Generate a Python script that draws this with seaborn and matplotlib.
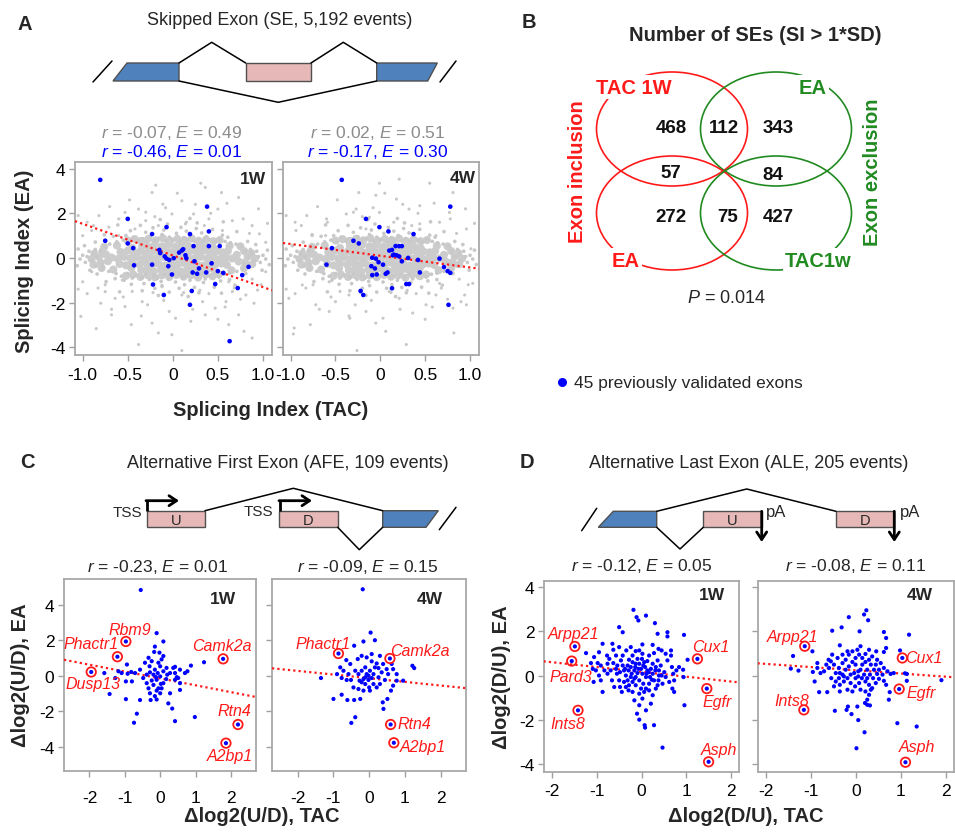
import numpy as np
import pandas as pd
import matplotlib
matplotlib.use("Agg")
import matplotlib.pyplot as plt
import seaborn as sns
from matplotlib.patches import Ellipse, Polygon

W, H = 955, 837
GREY = "#c8c8c8"
BLUE = "#0000ff"
RED = "#ff1a1a"
GREEN = "#218a21"
EXON_BLUE = "#4f81bd"
EXON_PINK = "#e6b8b7"

# ---------------- A: skipped exons, splicing index TAC (x) vs EA (y) ----------------
se_core = [(-0.34,0.55),(-0.27,0.49),(-0.2,0.6),(-0.12,0.52),(-0.05,0.58),(0.03,0.5),(0.1,0.61),(0.17,0.54),(0.25,0.47),(0.31,0.58),(0.38,0.5),
           (-0.58,0.27),(-0.5,0.33),(-0.43,0.24),(-0.36,0.3),(-0.3,0.22),(-0.22,0.31),(-0.15,0.25),(-0.08,0.34),(-0.01,0.26),(0.06,0.3),(0.13,0.21),(0.2,0.32),(0.27,0.26),(0.34,0.33),(0.41,0.22),(0.48,0.29),(0.55,0.25),(0.61,0.31),
           (-0.68,0.02),(-0.61,-0.04),(-0.54,0.05),(-0.47,-0.02),(-0.4,0.04),(-0.33,-0.05),(-0.26,0.03),(-0.19,-0.03),(-0.11,0.05),(-0.04,-0.01),(0.03,0.04),(0.1,-0.04),(0.17,0.02),(0.24,-0.02),(0.31,0.05),(0.38,-0.03),(0.45,0.03),(0.52,-0.05),(0.59,0.02),(0.66,-0.02),
           (-0.59,-0.27),(-0.52,-0.33),(-0.45,-0.24),(-0.37,-0.3),(-0.3,-0.22),(-0.23,-0.31),(-0.16,-0.26),(-0.09,-0.34),(-0.02,-0.25),(0.05,-0.3),(0.12,-0.22),(0.19,-0.32),(0.26,-0.27),(0.33,-0.34),(0.4,-0.23),(0.47,-0.3),(0.54,-0.25),(0.6,-0.31),
           (-0.35,-0.55),(-0.28,-0.5),(-0.21,-0.6),(-0.13,-0.53),(-0.06,-0.58),(0.02,-0.49),(0.09,-0.6),(0.16,-0.52),(0.23,-0.57),(0.3,-0.5),(0.37,-0.56),
           (-0.74,0.15),(-0.72,-0.15),(0.71,0.14),(0.73,-0.16),(-0.45,0.45),(0.45,0.44),(-0.46,-0.45),(0.44,-0.46),
           (-0.5,0.78),(-0.42,0.84),(-0.35,0.76),(-0.27,0.86),(-0.19,0.79),(-0.11,0.88),(-0.03,0.77),(0.05,0.85),(0.13,0.8),(0.21,0.87),(0.29,0.76),(0.37,0.83),(0.45,0.75),(0.52,0.8),
           (-0.52,-0.8),(-0.44,-0.74),(-0.36,-0.85),(-0.28,-0.77),(-0.2,-0.87),(-0.12,-0.78),(-0.04,-0.86),(0.04,-0.76),(0.12,-0.84),(0.2,-0.78),(0.28,-0.88),(0.36,-0.75),(0.44,-0.82),(0.51,-0.74),
           (-0.79,-0.45),(-0.8,-0.21),(-0.82,0.05),(-0.78,0.3),(-0.76,0.5),(0.79,-0.46),(0.8,-0.2),(0.83,0.06),(0.79,0.31),(0.75,0.52),
           (-0.88,-0.3),(-0.9,-0.05),(-0.87,0.2),(0.88,-0.28),(0.91,-0.03),(0.87,0.22),
           (-0.62,0.56),(-0.66,-0.52),(0.63,0.54),(0.65,-0.55)]
se_mid = [(-0.62,0.72),(-0.55,0.8),(-0.48,0.7),(-0.44,0.92),(-0.38,0.78),(-0.33,0.86),(-0.29,0.71),(-0.25,0.95),(-0.2,0.8),(-0.16,0.88),(-0.12,1.05),(-0.08,0.76),(-0.04,0.93),(0.0,0.82),(0.04,1.1),(0.08,0.74),(0.12,0.9),(0.16,0.8),(0.2,1.0),(0.24,0.76),(0.28,0.87),(0.33,0.72),(0.37,0.95),(0.42,0.8),(0.47,0.7),(0.52,0.84),(0.58,0.74),(0.64,0.68),
          (-0.3,1.15),(-0.1,1.25),(0.15,1.2),(0.32,1.12),(-0.52,1.0),(0.55,1.02),(-0.22,1.35),(0.26,1.32),
          (-0.63,-0.7),(-0.57,-0.82),(-0.5,-0.7),(-0.45,-0.9),(-0.4,-0.76),(-0.34,-0.88),(-0.3,-0.72),(-0.26,-0.96),(-0.21,-0.8),(-0.17,-0.9),(-0.13,-1.05),(-0.09,-0.75),(-0.05,-0.92),(-0.01,-0.8),(0.03,-1.08),(0.07,-0.74),(0.11,-0.88),(0.15,-0.78),(0.19,-1.0),(0.23,-0.75),(0.27,-0.86),(0.32,-0.71),(0.36,-0.94),(0.41,-0.8),(0.46,-0.7),(0.51,-0.85),(0.57,-0.73),(0.63,-0.68),
          (-0.32,-1.15),(-0.12,-1.24),(0.13,-1.2),(0.34,-1.1),(-0.54,-1.0),(0.53,-1.03),(-0.2,-1.36),(0.24,-1.32),
          (-0.8,0.3),(-0.84,0.05),(-0.79,-0.28),(-0.88,0.18),(-0.9,-0.12),(-0.95,0.06),(-0.76,0.5),(-0.78,-0.48),(-0.86,0.38),(-0.85,-0.36),(-0.97,-0.2),(-1.0,0.12),(-0.93,0.3),(-1.03,-0.05),(-0.7,0.62),(-0.71,-0.6),
          (0.8,0.3),(0.84,0.05),(0.79,-0.28),(0.88,0.18),(0.9,-0.12),(0.95,0.06),(0.76,0.5),(0.78,-0.48),(0.86,0.38),(0.85,-0.36),(0.97,-0.2),(1.0,0.12),(0.93,0.3),(1.03,-0.05),(0.7,0.62),(0.71,-0.6),
          (-0.86,0.71),(-0.66,0.97),(-0.47,1.22),(-0.36,1.46),(-0.06,1.52),(0.09,1.37),(0.27,1.57),(0.44,1.28),(0.61,0.93),(0.83,0.74),(0.71,1.18),(-0.76,1.04),(-0.14,1.72),(0.19,1.77),(-0.61,1.48),(0.56,1.62),
          (-0.84,-0.72),(-0.64,-0.93),(-0.46,-1.18),(-0.34,-1.47),(-0.04,-1.53),(0.07,-1.36),(0.29,-1.56),(0.46,-1.31),(0.63,-0.97),(0.81,-0.7),(0.69,-1.22),(-0.74,-1.06),(-0.16,-1.68),(0.17,-1.73),(-0.59,-1.52),(0.54,-1.58),
          (-1.05,0.4),(-1.06,-0.35),(1.05,0.35),(1.07,-0.3),(-0.98,0.55),(0.99,-0.55),(-0.92,-0.55),(0.92,0.6)]
se_outer = [(-0.95,1.6),(-0.82,1.9),(-0.7,2.3),(-0.48,2.6),(-0.3,2.05),(-0.08,2.25),(0.05,2.9),(0.25,2.4),(0.42,2.0),(0.6,2.45),(0.78,1.75),(0.95,2.2),(-1.05,1.9),(-0.6,1.75),(0.15,1.6),(-0.2,1.85),(0.35,1.45),(0.85,1.1),(-0.88,1.45),(1.05,1.55),
            (-0.95,-1.6),(-0.83,-1.35),(-0.68,-2.3),(-0.45,-1.5),(-0.28,-2.1),(-0.1,-1.9),(0.03,-2.7),(0.22,-2.3),(0.4,-1.6),(0.58,-2.2),(0.75,-1.85),(0.98,-1.2),(-1.05,-1.4),(-0.55,-1.75),(0.12,-1.55),(-0.22,-1.55),(0.3,-1.45),(0.88,-0.95),(-0.35,-2.6),(0.5,-2.75),(-0.75,-1.2),(0.68,-1.35)]
se_grey_1w = [(-0.19,3.26),(-0.23,2.93),(0.31,3.35),(0.73,2.71),(0.54,2.93),(0.36,3.16),(-0.11,2.41),(0.1,2.56),(-0.53,2.04),(-0.38,2.19),(0.5,2.19),(0.88,1.45),(0.96,1.08),(-0.9,1.23),(-1.0,1.0),(-0.71,1.38),(0.66,1.67),(0.23,1.97),(-0.01,1.97),(-0.3,1.67),(1.03,0.7),(1.03,-0.62),(-1.0,-1.07),(-0.9,-0.62),(-0.75,-1.51),(-0.64,-1.81),(-0.53,-2.18),(-0.8,-2.03),(-1.02,-2.62),(-0.85,-3.17),(-0.46,-2.99),(-0.23,-2.92),(-0.16,-3.36),(-0.01,-3.44),(0.1,-4.15),(0.2,-2.84),(0.36,-2.55),(0.47,-2.25),(0.59,-1.96),(0.73,-2.55),(0.79,-3.29),(0.88,-3.59),(0.9,-2.03),(0.94,-1.44),(0.81,-1.66),(0.66,-1.51),(0.1,-1.66),(-0.34,-1.96),(-0.04,-2.4),(0.33,-1.96),(-0.68,-2.55),(-0.38,-3.88),(0.62,-2.99),(-0.56,-0.99),(-0.12,-1.29),(0.62,-1.07),(-0.6,1.0),(0.55,1.23),(0.4,1.75),(0.14,1.53),(-0.16,1.45),(-0.42,1.3)]
se_grey_4w = [(-0.01,3.35),(0.21,3.53),(0.55,3.35),(-0.24,2.93),(-0.05,2.81),(0.81,2.93),(0.44,2.34),(0.18,2.64),(-0.59,1.6),(-0.38,1.97),(0.66,1.6),(0.96,1.3),(-0.94,1.23),(-0.76,1.0),(-0.27,2.19),(-0.12,1.82),(0.32,2.19),(0.77,2.04),(1.01,0.41),(1.03,-1.14),(-1.02,-1.81),(-0.96,-3.14),(-0.97,-3.41),(-0.78,-2.99),(-0.87,-1.21),(-0.72,-2.1),(-0.5,-1.96),(-0.34,-2.7),(-0.16,-2.4),(-0.05,-2.92),(-0.26,-4.15),(0.06,-3.29),(0.36,-2.47),(0.51,-2.1),(0.81,-2.25),(0.82,-3.36),(0.9,-1.96),(0.94,-1.66),(0.62,-1.66),(0.21,-1.81),(-0.35,-1.66),(-0.57,-1.07),(0.66,-1.14),(0.1,-1.51),(-0.16,1.3),(0.44,1.53),(-0.61,1.0),(0.62,1.0),(-0.01,2.04),(0.96,-2.1),(0.29,-3.88),(-0.57,-2.4)]
se_blue_1w = [(-0.805,3.50),(-0.75,0.77),(-0.50,1.75),(-0.50,0.65),(-0.44,0.44),(-0.43,-0.33),(-0.23,1.07),(-0.23,-0.30),(-0.22,-1.19),(-0.10,-1.66),(-0.07,1.38),(-0.15,0.36),(-0.14,0.22),(-0.09,0.07),(-0.07,-0.03),(-0.04,-0.09),(-0.05,-0.37),(-0.01,-0.74),(0.01,-0.01),(0.07,0.24),(0.10,0.33),(0.14,0.12),(0.15,-0.01),(0.19,1.07),(0.23,0.53),(0.24,-0.15),(0.22,-0.65),(0.27,-0.71),(0.29,-0.47),(0.21,-1.48),(0.19,-2.10),(0.38,2.30),(0.40,1.19),(0.40,0.53),(0.37,-0.65),(0.43,-0.24),(0.50,-0.59),(0.52,0.53),(0.47,-1.17),(0.56,-0.67),(0.72,-1.35),(0.77,-0.77),(0.84,-0.40),(0.63,-3.73),(0.115,0.39)]
se_blue_4w = [(-0.43,3.50),(-0.16,1.75),(-0.01,1.38),(0.09,1.19),(0.37,1.07),(-0.30,0.77),(-0.24,0.65),(-0.54,0.44),(-0.60,-0.30),(-0.09,0.01),(-0.05,-0.03),(-0.02,-0.19),(-0.10,-0.37),(-0.06,-0.47),(-0.09,-0.77),(-0.04,-0.74),(0.03,-0.30),(0.06,-0.71),(0.08,-0.65),(0.10,0.33),(0.13,0.36),(0.14,0.12),(0.17,0.53),(0.21,0.53),(0.24,0.53),(0.18,0.12),(0.21,0.07),(0.24,-0.15),(0.31,0.0),(0.42,-0.09),(0.44,-0.65),(0.13,-1.36),(0.29,-1.17),(0.32,-1.17),(-0.22,-1.48),(-0.19,-1.66),(0.66,-0.03),(0.71,-0.41),(0.75,-0.59),(0.78,-0.67),(0.78,2.30),(0.76,-2.10),(0.15,0.15)]
se_fit_x = [-1.085, 1.10]
se_fit_1w = [1.65, -1.45]
se_fit_4w = [0.67, -0.48]
se_stats_all = ["$\\it{r}$ = -0.07, $\\it{E}$ = 0.49", "$\\it{r}$ = 0.02, $\\it{E}$ = 0.51"]
se_stats_valid = ["$\\it{r}$ = -0.46, $\\it{E}$ = 0.01", "$\\it{r}$ = -0.17, $\\it{E}$ = 0.30"]

# ---------------- B: Venn counts ----------------
venn_counts = [468, 112, 343, 57, 84, 272, 75, 427]

# ---------------- C: alternative first exon ----------------
afe_1w = [(-0.55,4.83),(-0.10,2.40),(0.09,1.93),(-0.97,1.93),(-1.21,1.07),(-1.95,0.21),(1.78,0.95),(2.20,-2.75),(1.86,-3.80),(1.24,0.76),(0.87,0.57),(-0.15,1.64),(-0.33,1.01),(-0.24,0.82),(-0.05,0.73),(0.04,0.92),(0.00,0.53),(-0.15,0.34),(-0.29,0.19),(-0.38,0.06),(-0.19,0.06),(-0.07,0.15),(0.09,0.25),(0.18,0.44),(0.20,0.06),(0.37,0.44),(0.42,0.15),(0.47,-0.08),(0.56,-0.42),(0.70,0.15),(0.77,0.25),(-0.57,0.34),(-0.71,0.15),(-0.82,0.21),(-0.94,0.63),(-0.92,0.11),(-1.09,0.15),(-1.27,-0.13),(-1.58,0.15),(-1.43,-1.03),(-0.97,-0.32),(-0.97,-1.32),(-0.57,-1.37),(-0.66,-2.14),(-0.74,-2.65),(-0.27,-1.37),(-0.10,-1.34),(0.00,-0.99),(0.09,-0.42),(-0.10,-0.23),(-0.19,-0.52),(-0.38,-0.42),(-0.33,-0.71),(-0.05,-0.71),(0.04,-0.71),(0.28,-0.99),(0.34,-1.85),(0.23,-1.56),(0.42,-2.56),(0.98,-2.33),(0.56,-0.80),(0.42,-0.23),(-0.48,-0.13),(-0.24,-0.27),(0.00,-0.04),(-0.12,-0.08),(0.17,-0.19),(0.28,0.15),(-0.30,0.53),(-0.43,0.73),(0.09,1.11),(-0.02,1.30),(-0.17,1.34),(0.51,-0.13),(-0.10,-0.84),(0.02,-0.46),(-0.29,-0.99),(-0.15,-1.15),(-0.80,-0.32),(-1.18,0.25),(0.42,0.50),(0.56,0.34)]
afe_4w = [(-0.18,4.87),(0.04,2.43),(0.16,2.00),(-0.16,1.93),(-0.42,1.69),(-0.86,1.25),(0.58,0.97),(0.60,-2.75),(0.69,-3.78),(1.21,0.56),(1.26,0.43),(0.77,0.09),(0.95,-0.28),(0.39,0.66),(0.21,0.69),(0.16,0.47),(0.02,0.28),(-0.07,0.09),(-0.11,-0.09),(-0.02,-0.24),(0.07,-0.13),(-0.21,-0.37),(-0.30,0.09),(-0.39,0.28),(-0.53,0.66),(-0.64,0.88),(-0.81,0.47),(-0.90,0.09),(-0.77,-0.13),(-0.63,-0.24),(-1.35,-0.13),(-1.00,-1.31),(-0.77,-1.07),(-0.61,-1.37),(-0.42,-1.37),(-0.25,-1.31),(-0.39,-2.34),(-0.50,-2.66),(0.02,-0.84),(-0.16,-0.84),(0.21,-0.66),(0.30,-0.47),(0.44,-0.24),(0.53,0.09),(0.49,0.37),(0.67,0.37),(0.63,0.66),(0.38,-1.50),(0.51,-1.31),(0.40,-1.87),(-0.07,1.03),(-0.21,1.12),(-0.32,0.94),(0.30,1.12),(0.07,0.81),(-0.11,0.47),(-0.21,0.28),(0.12,0.09),(-0.02,0.00),(-0.16,-0.19),(-0.27,-0.28),(0.26,-0.09),(0.35,0.19),(-0.51,-0.24),(-0.44,-0.66),(-0.30,-0.75),(0.12,-0.47),(0.77,-0.28),(0.61,-0.84),(0.67,-0.56),(-0.72,0.28),(-0.58,0.09),(0.07,1.22),(0.26,0.43),(-0.11,-0.47),(0.00,-0.66)]
afe_genes_1w = ["Rbm9", "Phactr1", "Dusp13", "Camk2a", "Rtn4", "A2bp1"]
afe_gene_x_1w = [-0.97, -1.21, -1.95, 1.78, 2.20, 1.86]
afe_gene_y_1w = [1.93, 1.07, 0.21, 0.95, -2.75, -3.80]
afe_genes_4w = ["Phactr1", "Camk2a", "Rtn4", "A2bp1"]
afe_gene_x_4w = [-0.86, 0.58, 0.60, 0.69]
afe_gene_y_4w = [1.25, 0.97, -2.75, -3.78]
afe_fit_x = [-2.72, 2.71]
afe_fit_1w = [0.90, -1.20]
afe_fit_4w = [0.42, -0.70]
afe_stats = ["$\\it{r}$ = -0.23, $\\it{E}$ = 0.01", "$\\it{r}$ = -0.09, $\\it{E}$ = 0.15"]

# ---------------- D: alternative last exon ----------------
ale_1w = [(-1.49,1.32),(-1.56,0.66),(-1.42,-1.56),(1.25,0.76),(1.46,-0.58),(1.50,-3.88),
          (-0.18,2.97),(-0.11,2.64),(-0.07,2.49),(0.10,2.71),(-0.50,2.19),(-0.42,1.96),(0.30,2.37),(0.36,1.89),(0.58,1.96),(0.58,1.77),(0.95,1.84),(-0.87,1.44),(-0.63,1.17),(-0.24,1.29),(0.02,1.41),(0.25,1.39),(0.38,1.21),(0.66,1.14),(1.03,0.72),(0.93,0.27),(0.94,-0.06),(0.96,-1.33),(-1.24,1.02),(-0.95,1.06),(-1.06,0.84),(-1.13,0.57),(-1.09,0.31),(-0.98,0.57),(-1.07,-0.28),(-0.87,-0.73),(-0.77,0.91),(-0.76,0.54),(-0.69,0.24),(-0.57,0.91),(-0.54,0.46),(-0.55,0.09),(-0.46,0.69),(-0.42,0.91),(-0.39,0.24),(-0.50,-0.21),(-0.48,-0.51),(-0.44,-0.73),(-0.29,-0.66),(-0.28,-0.43),(-0.35,0.01),(-0.31,0.46),(-0.28,0.72),(-0.20,0.91),(-0.13,1.11),(-0.09,0.76),(-0.05,0.54),(-0.16,0.24),(-0.22,0.09),(-0.13,-0.06),(-0.05,-0.21),(0.02,0.09),(0.08,0.39),(0.13,0.66),(0.17,0.91),(0.21,0.31),(0.25,0.09),(0.28,-0.21),(0.17,-0.36),(0.10,-0.58),(-0.01,-0.58),(-0.13,-0.43),(-0.05,-0.81),(0.32,-0.58),(0.36,0.69),(0.39,0.24),(0.43,0.46),(0.51,0.16),(0.58,0.69),(0.66,0.91),(0.68,0.39),(0.71,0.09),(0.73,-0.21),(0.69,-0.58),(0.73,-0.73),(0.45,0.01),(0.47,-0.36),(0.36,-0.43),(-0.66,-0.21),(-0.76,0.09),(-0.61,-0.51),(-0.83,0.24),(-0.91,0.46),(-0.10,-1.71),(-0.05,-1.98),(0.07,-2.23),(0.08,-2.34),(0.28,-2.23),(0.21,-1.26),(0.10,-1.56),(0.47,-3.24),(-0.50,1.29),(-0.65,1.44),(-0.34,1.14),(-0.05,1.14),(0.02,0.99),(0.28,1.02),(0.45,1.14),(0.54,0.99),(-0.24,-0.06),(-0.31,-0.21),(-0.39,-0.28),(-0.20,-0.28),(-0.16,-0.13),(0.10,-0.06),(0.16,0.16),(0.06,0.61),(0.01,0.76),(-0.13,0.54),(-0.20,0.61),(0.25,0.54),(0.32,0.39),(0.23,-0.18),(0.38,-0.21),(0.04,-0.36),(-0.09,0.12),(0.13,0.24),(0.39,0.01),(0.54,-0.06),(0.62,-0.28),(0.78,0.24),(0.84,0.39),(-0.95,0.01),(-0.91,-0.21),(-1.02,0.24),(-0.72,0.76),(-0.63,0.57),(-0.57,0.31),(-0.48,0.16),(-0.42,0.46),(-0.37,0.31),(-0.29,0.24),(-0.24,0.39),(-0.14,0.39),(-0.07,0.31),(-0.01,0.31),(0.04,0.46),(0.11,0.09),(0.19,-0.06),(0.31,0.24),(-0.20,-0.73),(-0.35,-0.51),(0.06,-0.73),(0.17,-0.66),(0.25,-0.88),(0.02,-1.03),(-0.05,-1.33),(-0.16,-1.11)]
ale_4w = [(-1.14,1.33),(-1.16,-1.54),(1.03,0.80),(0.96,-0.60),(1.10,-3.90),
          (0.23,2.95),(0.18,2.76),(0.27,2.50),(-0.16,2.64),(-0.53,2.03),(-0.32,2.18),(0.08,2.00),(0.62,1.97),(0.67,1.70),(1.18,1.85),(0.45,1.10),(0.62,1.07),(0.67,1.25),(0.98,1.14),(-0.97,1.10),(-1.40,0.89),(-1.45,0.32),(-1.28,0.23),(-0.96,0.17),(-0.92,-0.26),(-0.82,-0.74),(-0.64,-0.74),(-0.47,-1.58),(-0.21,-1.54),(-0.10,-1.73),(0.05,-2.00),(0.25,-1.31),(0.31,-1.34),(0.19,-2.55),(0.01,-3.27),(0.92,-2.14),(1.35,-2.29),(1.13,0.08),(1.09,0.11),(1.13,-0.23),(1.90,-0.20),(0.75,-0.74),(0.73,-1.08),(-0.36,1.37),(-0.53,0.95),(-0.61,0.72),(-0.49,0.50),(-0.60,0.35),(-0.71,0.20),(-0.79,0.12),(-0.86,0.35),(-0.45,0.12),(-0.38,0.35),(-0.30,0.57),(-0.23,0.72),(-0.16,0.95),(-0.08,1.10),(0.03,1.17),(0.10,1.33),(0.07,0.95),(0.14,0.80),(0.21,0.98),(0.29,1.17),(0.36,0.87),(0.47,0.72),(0.55,0.57),(0.62,0.35),(0.70,0.20),(0.77,0.08),(0.84,0.12),(0.59,0.05),(0.51,-0.14),(0.44,-0.33),(0.36,-0.56),(0.29,-0.41),(0.25,-0.11),(0.18,0.05),(0.10,0.27),(-0.01,0.50),(-0.08,0.62),(-0.16,0.42),(-0.23,0.27),(-0.30,0.05),(-0.38,-0.11),(-0.45,-0.26),(-0.36,-0.41),(-0.27,-0.26),(-0.19,-0.11),(-0.12,0.05),(-0.04,0.12),(0.05,0.20),(0.13,-0.11),(0.07,-0.33),(-0.02,-0.48),(-0.12,-0.33),(-0.08,-0.71),(-0.19,-0.63),(0.21,-0.71),(0.29,-0.86),(0.33,-0.63),(0.25,0.27),(0.33,0.50),(0.40,0.27),(0.44,0.50),(0.51,0.27),(0.62,-0.23),(0.67,-0.41),(-0.55,-0.11),(-0.66,0.50),(-0.56,0.65),(-0.41,0.80),(-0.30,0.95),(-0.19,1.10),(-0.36,0.12),(-0.27,-0.03),(-0.01,-0.11),(0.05,-0.03),(0.21,-0.26),(0.31,0.05),(0.38,-0.11),(0.47,0.08),(0.14,0.50),(0.21,0.62),(0.29,0.72),(-0.01,0.80),(-0.86,0.57),(-0.36,-0.71),(-0.49,-0.48),(0.10,-0.63),(0.20,-1.23),(0.03,-1.39),(-0.18,-1.39),(0.25,-1.08)]
ale_genes_1w = ["Arpp21", "Pard3", "Ints8", "Cux1", "Egfr", "Asph"]
ale_gene_x_1w = [-1.49, -1.56, -1.42, 1.25, 1.46, 1.50]
ale_gene_y_1w = [1.32, 0.66, -1.56, 0.76, -0.58, -3.88]
ale_genes_4w = ["Arpp21", "Ints8", "Cux1", "Egfr", "Asph"]
ale_gene_x_4w = [-1.14, -1.16, 1.03, 0.96, 1.10]
ale_gene_y_4w = [1.33, -1.54, 0.80, -0.60, -3.90]
ale_fit_x = [-2.19, 2.18]
ale_fit_1w = [0.65, -0.30]
ale_fit_4w = [0.56, -0.07]
ale_stats = ["$\\it{r}$ = -0.12, $\\it{E}$ = 0.05", "$\\it{r}$ = -0.08, $\\it{E}$ = 0.11"]

# label anchor points for gene names (data coords, layout only)
afe_lab_1w = [(-0.87,2.63),(-1.95,1.81),(-1.89,-0.42),(1.74,1.72),(2.09,-1.98),(1.97,-4.52)]
afe_lab_4w = [(-1.3,1.82),(1.43,1.44),(1.26,-2.72),(1.49,-3.99)]
ale_lab_1w = [(-1.51,1.89),(-1.59,-0.05),(-1.65,-2.16),(1.55,1.32),(1.70,-1.18),(1.74,-3.31)]
ale_lab_4w = [(-1.41,1.78),(-1.44,-1.13),(1.50,0.83),(1.45,-0.74),(1.35,-3.19)]

# ---------------- style ----------------
sns.set_theme(style="white")
plt.rcParams["font.family"] = ["Liberation Sans", "DejaVu Sans"]
plt.rcParams["axes.unicode_minus"] = False
plt.rcParams["mathtext.fontset"] = "custom"
plt.rcParams["mathtext.rm"] = "Liberation Sans"
plt.rcParams["mathtext.it"] = "Liberation Sans:italic"
plt.rcParams["mathtext.bf"] = "Liberation Sans:bold"

fig = plt.figure(figsize=(W / 100, H / 100), dpi=100)
fig.patch.set_facecolor("white")


def px_axes(l, t, r, b):
    return fig.add_axes([l / W, 1 - b / H, (r - l) / W, (b - t) / H])


def frame(ax, xlim, ylim, xticks, xlabels, yticks, show_y, xpad):
    ax.set_xlim(xlim)
    ax.set_ylim(ylim)
    ax.set_xticks(xticks, xlabels)
    ax.set_yticks(yticks, [str(v) for v in yticks] if show_y else [])
    ax.tick_params(bottom=True, left=True, length=4, width=1, color="#a0a0a0",
                   labelsize=12.5, labelcolor="black")
    ax.tick_params(axis="x", pad=xpad)
    ax.tick_params(axis="y", pad=3)
    for sp in ax.spines.values():
        sp.set_color("#a8a8a8")
        sp.set_linewidth(1.3)
    ax.set_xlabel("")
    ax.set_ylabel("")
    ax.set_facecolor("white")


def dots(ax, pts, color, s, z=2):
    xs, ys = zip(*pts)
    sns.scatterplot(x=list(xs), y=list(ys), ax=ax, color=color, s=s, linewidth=0,
                    edgecolor="none", zorder=z, legend=False)


def rings(ax, xs, ys):
    sns.scatterplot(x=xs, y=ys, ax=ax, color=RED, s=46, linewidth=1.3, zorder=5, legend=False)
    coll = ax.collections[-1]
    coll.set_facecolor("none")
    coll.set_edgecolor(RED)


def fit(ax, xs, ys):
    sns.lineplot(x=xs, y=ys, ax=ax, color=RED, linestyle=(0, (1, 1.4)), linewidth=1.6, zorder=3)


# ---- panel A scatter ----
for (l, r), blue, grey, fy, show_y in [((75, 272), se_blue_1w, se_grey_1w, se_fit_1w, True),
                                       ((283, 479), se_blue_4w, se_grey_4w, se_fit_4w, False)]:
    ax = px_axes(l, 163, r, 356)
    dots(ax, se_core, "#cccccc", 34, 1)
    dots(ax, se_mid, GREY, 7, 1)
    dots(ax, se_outer, GREY, 5, 1)
    dots(ax, grey, GREY, 5, 1)
    fit(ax, se_fit_x, fy)
    dots(ax, blue, BLUE, 11, 4)
    frame(ax, (-1.085, 1.10), (-4.35, 4.3), [-1, -0.5, 0, 0.5, 1],
          ["-1.0", "-0.5", "0", "0.5", "1.0"], [-4, -2, 0, 2, 4], show_y, 5)

# ---- panel C scatter ----
for (l, r), pts, gn, gx, gy, labs, fy, show_y in [
        ((64, 256), afe_1w, afe_genes_1w, afe_gene_x_1w, afe_gene_y_1w, afe_lab_1w, afe_fit_1w, True),
        ((272, 466), afe_4w, afe_genes_4w, afe_gene_x_4w, afe_gene_y_4w, afe_lab_4w, afe_fit_4w, False)]:
    ax = px_axes(l, 580, r, 772)
    fit(ax, afe_fit_x, fy)
    dots(ax, pts, BLUE, 9, 4)
    rings(ax, gx, gy)
    for name, (lx, ly) in zip(gn, labs):
        ax.text(lx, ly, name, color=RED, fontsize=11.5, fontstyle="italic", ha="center", va="center", zorder=6)
    frame(ax, (-2.72, 2.71), (-5.37, 5.45), [-2, -1, 0, 1, 2], ["-2", "-1", "0", "1", "2"],
          [-4, -2, 0, 2, 4], show_y, 10)

# ---- panel D scatter ----
for (l, r), pts, gn, gx, gy, labs, fy, show_y in [
        ((544, 739), ale_1w, ale_genes_1w, ale_gene_x_1w, ale_gene_y_1w, ale_lab_1w, ale_fit_1w, True),
        ((758, 954), ale_4w, ale_genes_4w, ale_gene_x_4w, ale_gene_y_4w, ale_lab_4w, ale_fit_4w, False)]:
    ax = px_axes(l, 582, r, 773)
    fit(ax, ale_fit_x, fy)
    dots(ax, pts, BLUE, 9, 4)
    rings(ax, gx, gy)
    for name, (lx, ly) in zip(gn, labs):
        ax.text(lx, ly, name, color=RED, fontsize=11.5, fontstyle="italic", ha="center", va="center", zorder=6)
    frame(ax, (-2.18, 2.18), (-4.34, 4.27), [-2, -1, 0, 1, 2], ["-2", "-1", "0", "1", "2"],
          [-4, -2, 0, 2, 4], show_y, 4)

# ---- overlay for texts, diagrams and Venn (pixel coordinates) ----
ov = fig.add_axes([0, 0, 1, 1], zorder=10)
ov.set_xlim(0, W)
ov.set_ylim(H, 0)
ov.axis("off")
ov.patch.set_alpha(0)


def txt(x, y, s, size, **kw):
    ov.text(x, y, s, fontsize=size, ha=kw.pop("ha", "center"), va=kw.pop("va", "center"), **kw)


def exon(pts, color):
    ov.add_patch(Polygon(pts, closed=True, facecolor=color, edgecolor="#505050", lw=1.0))


def link(pts):
    xs, ys = zip(*pts)
    ov.plot(xs, ys, color="black", lw=1.1)


def arrow(x0, y0, x1, y1):
    ov.annotate("", xy=(x1, y1), xytext=(x0, y0),
                arrowprops=dict(arrowstyle="->,head_length=0.45,head_width=0.3", lw=2.0,
                                color="black", shrinkA=0, shrinkB=0))


# panel letters and titles
for x, y, s in [(25, 24, "A"), (529, 22, "B"), (27, 463, "C"), (527, 463, "D")]:
    txt(x, y, s, 14.5, weight="bold")
txt(280, 20, "Skipped Exon (SE, 5,192 events)", 13)
txt(288, 463, "Alternative First Exon (AFE, 109 events)", 13)
txt(749, 463, "Alternative Last Exon (ALE, 205 events)", 13)

# A diagram
link([(93, 83), (112, 62)])
exon([(113, 82), (127, 64), (179, 64), (179, 82)], EXON_BLUE)
exon([(245.7, 64), (311, 64), (311, 82), (245.7, 82)], EXON_PINK)
exon([(376.7, 64), (437.3, 64), (427.7, 82), (376.7, 82)], EXON_BLUE)
link([(440, 83), (456, 62)])
link([(179, 64), (211.7, 43.3), (245.7, 64)])
link([(311, 64), (343.3, 43.3), (376.7, 64)])
link([(179, 82), (278.3, 103.3), (376.7, 82)])

# A stats, labels
for cx, s_all, s_val in zip([172, 378], se_stats_all, se_stats_valid):
    txt(cx, 133, s_all, 12.5, color="#8c8c8c")
    txt(cx, 152, s_val, 12.5, color=BLUE)
txt(253, 179, "1W", 12.5, weight="bold")
txt(463, 178, "4W", 12.5, weight="bold")
txt(25, 261, "Splicing Index (EA)", 14.5, weight="bold", rotation=90)
txt(271, 410, "Splicing Index (TAC)", 14.5, weight="bold")

# B Venn
txt(755, 35, "Number of SEs (SI > 1*SD)", 14.5, weight="bold")
for (cx, cy), col in [((672, 130), RED), ((776, 130), GREEN), ((672, 214), RED), ((776, 214), GREEN)]:
    ov.add_patch(Ellipse((cx, cy), 151, 114, fill=False, edgecolor=col, lw=1.2))
venn_pos = [(671, 128), (724, 128), (778, 128), (671, 173), (773, 175), (671, 217), (728, 217), (778, 217)]
for (x, y), n in zip(venn_pos, venn_counts):
    txt(x, y, str(n), 13.5, weight="bold", color="#111111")
white = dict(facecolor="white", edgecolor="none", pad=1.5)
txt(634, 88, "TAC 1W", 14.5, weight="bold", color=RED, bbox=white)
txt(813, 88, "EA", 14.5, weight="bold", color=GREEN, bbox=white)
txt(626, 261, "EA", 14.5, weight="bold", color=RED, bbox=white)
txt(818, 261, "TAC1w", 14.5, weight="bold", color=GREEN, bbox=white)
txt(577, 172, "Exon inclusion", 14.5, weight="bold", color=RED, rotation=90)
txt(872, 172, "Exon exclusion", 14.5, weight="bold", color=GREEN, rotation=90)
txt(727, 298, "$\\it{P}$ = 0.014", 13)
ov.plot(562, 383, "o", color=BLUE, ms=5.5)
txt(574, 383, "45 previously validated exons", 12.5, ha="left")

# C diagram
txt(127, 513, "TSS", 11)
txt(258, 512, "TSS", 11)
exon([(146.7, 511.7), (205, 511.7), (205, 528.3), (146.7, 528.3)], EXON_PINK)
exon([(279.3, 511.7), (337.7, 511.7), (337.7, 528.3), (279.3, 528.3)], EXON_PINK)
txt(176, 521, "U", 10.5)
txt(308.5, 521, "D", 10.5)
for x0, x1 in [(147, 179), (280, 312)]:
    ov.plot([x0, x0], [511.7, 501.7], color="black", lw=2.0, solid_capstyle="butt")
    arrow(x0 - 1, 501.7, x1, 501.7)
link([(205, 511.7), (293.3, 489.3), (382.7, 511.7)])
link([(337.7, 528.3), (359.3, 550.7), (382.7, 528.3)])
exon([(382.7, 511.7), (438.3, 511.7), (426, 528.3), (382.7, 528.3)], EXON_BLUE)
link([(439.3, 530.7), (456, 508.3)])
for cx, s in zip([158, 368], afe_stats):
    txt(cx, 567, s, 12.5)
txt(223, 600, "1W", 12.5, weight="bold")
txt(430, 600, "4W", 12.5, weight="bold")
txt(21, 675, "\u0394log2(U/D), EA", 14.5, weight="bold", rotation=90)
txt(262, 817, "\u0394log2(U/D), TAC", 14.5, weight="bold")

# D diagram
link([(581.7, 531.7), (596.7, 509.3)])
exon([(598.3, 528.3), (613.3, 512.3), (656.7, 512.3), (656.7, 528.3)], EXON_BLUE)
link([(656.7, 512.3), (746.7, 490), (836, 512.3)])
link([(656.7, 528.3), (680, 550), (703.3, 528.3)])
exon([(703.3, 512.3), (761.7, 512.3), (761.7, 528.3), (703.3, 528.3)], EXON_PINK)
exon([(836, 512.3), (894.3, 512.3), (894.3, 528.3), (836, 528.3)], EXON_PINK)
txt(732.5, 521, "U", 10.5)
txt(865, 521, "D", 10.5)
for x in [761.7, 894.3]:
    arrow(x, 512.3, x, 543)
txt(776, 513, "pA", 12)
txt(910, 513, "pA", 12)
for cx, s in zip([642, 856], ale_stats):
    txt(cx, 566, s, 12.5)
txt(712, 596, "1W", 12.5, weight="bold")
txt(920, 596, "4W", 12.5, weight="bold")
txt(501, 677, "\u0394log2(D/U), EA", 14.5, weight="bold", rotation=90)
txt(746, 817, "\u0394log2(D/U), TAC", 14.5, weight="bold")

fig.savefig("out.png", dpi=100)
